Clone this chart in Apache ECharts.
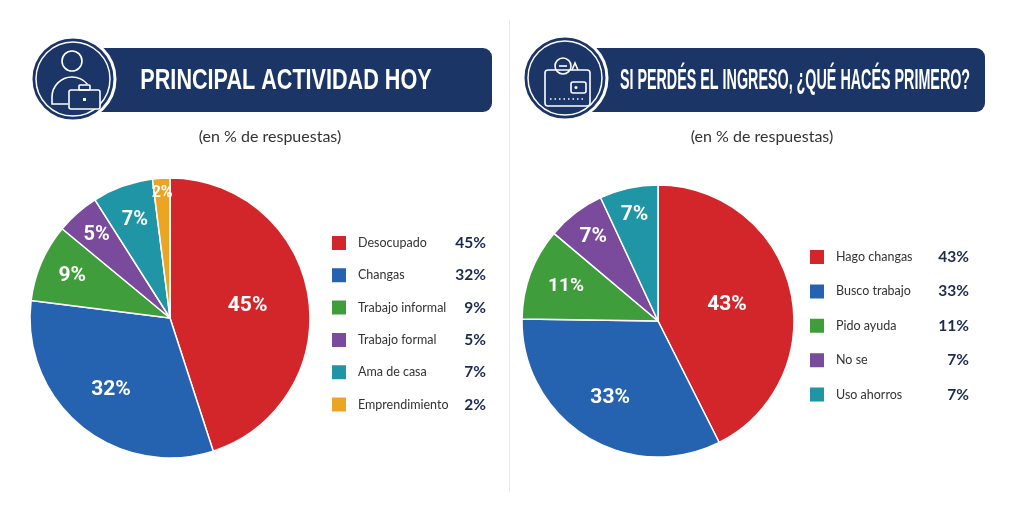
<!DOCTYPE html>
<html>
<head>
<meta charset="utf-8">
<script src="https://cdn.jsdelivr.net/npm/echarts@6/dist/echarts.min.js"></script>
<style>
html,body{margin:0;padding:0;background:#fff;}
#chart{width:1024px;height:507px;}
</style>
</head>
<body>
<div id="chart"></div>
<script>
// ---- Data ----
const titleA = 'PRINCIPAL ACTIVIDAD HOY';
const titleB = 'SI PERDÉS EL INGRESO, ¿QUÉ HACÉS PRIMERO?';
const subtitle = '(en % de respuestas)';
const categoriesA = ['Desocupado', 'Changas', 'Trabajo informal', 'Trabajo formal', 'Ama de casa', 'Emprendimiento'];
const valuesA = [45, 32, 9, 5, 7, 2];
const categoriesB = ['Hago changas', 'Busco trabajo', 'Pido ayuda', 'No se', 'Uso ahorros'];
const valuesB = [43, 33, 11, 7, 7];

// ---- Styles / layout ----
const colorsA = ['#d3262a', '#2562b0', '#3f9e3b', '#7a4b9d', '#1f95a6', '#eba524'];
const colorsB = ['#d3262a', '#2562b0', '#3f9e3b', '#7a4b9d', '#1f95a6'];
const labelRadiusA = [0.54, 0.64, 0.74, 0.77, 0.72, 0.87];
const labelRadiusB = [0.50, 0.64, 0.70, 0.76, 0.78];
const labelSizeA = [21, 21, 21, 20, 20, 16];
const labelSizeB = [21, 21, 19, 21, 21];
const NAVY = '#1b3567';
const pieA = {center: [170, 318], r: 140};
const pieB = {center: [658, 321], r: 136};

const chart = echarts.init(document.getElementById('chart'));

function mainPie(cats, vals, colors, geo) {
  return {
    type: 'pie', center: geo.center, radius: [0, geo.r], startAngle: 90, clockwise: true,
    avoidLabelOverlap: false, silent: true,
    label: {show: false}, labelLine: {show: false},
    itemStyle: {borderColor: '#ffffff', borderWidth: 1.5},
    data: cats.map((n, i) => ({name: n, value: vals[i], itemStyle: {color: colors[i]}}))
  };
}
function labelPies(cats, vals, fracs, sizes, geo) {
  return cats.map((n0, k) => ({
    type: 'pie', center: geo.center, radius: [0, 2 * fracs[k] * geo.r], startAngle: 90, clockwise: true,
    avoidLabelOverlap: false, silent: true, legendHoverLink: false,
    labelLine: {show: false},
    itemStyle: {color: 'rgba(0,0,0,0)', borderWidth: 0},
    data: cats.map((n, i) => ({
      name: n, value: vals[i],
      label: {show: i === k, position: 'inside', formatter: '{c}%', color: '#ffffff',
        fontFamily: 'Roboto', fontWeight: 'bold', fontSize: sizes[i]}
    }))
  }));
}
function legendFor(cats, vals, left, top, gap, nameW) {
  const map = {};
  cats.forEach((c, i) => map[c] = vals[i]);
  return {
    orient: 'vertical', left: left, top: top, padding: 0, itemWidth: 16, itemHeight: 16, itemGap: gap,
    icon: 'rect', selectedMode: false, data: cats,
    formatter: name => '{n|' + name + '}{v|' + map[name] + '%}',
    textStyle: {
      rich: {
        n: {width: nameW, padding: [0, 0, 0, 6], fontFamily: 'Lato', fontSize: 12.5, color: '#333333', lineHeight: 16},
        v: {width: 32, align: 'right', fontFamily: 'Lato', fontWeight: 'bold', fontSize: 15.5, color: '#1d2a4f', lineHeight: 16}
      }
    }
  };
}

function header(cx, cy, barX0, barX1, title, titleX, sx, icon) {
  const els = [
    {type: 'rect', shape: {x: barX0, y: 48, width: barX1 - barX0, height: 64, r: [0, 9, 9, 0]}, style: {fill: NAVY}},
    {type: 'circle', shape: {cx: cx, cy: cy, r: 42}, style: {fill: NAVY, stroke: '#ffffff', lineWidth: 3}},
    {type: 'circle', shape: {cx: cx, cy: cy, r: 37}, style: {fill: 'none', stroke: '#ffffff', lineWidth: 1.5}},
    {type: 'text', x: titleX, y: 81, scaleX: sx,
      style: {text: title, fill: '#ffffff', font: 'bold 29px "Liberation Sans"', textAlign: 'center', textVerticalAlign: 'middle'}}
  ];
  return els.concat(icon);
}
const iconStroke = {fill: 'none', stroke: '#ffffff', lineWidth: 1.6};
const personIcon = [
  {type: 'circle', shape: {cx: 72, cy: 61, r: 10}, style: iconStroke},
  {type: 'arc', shape: {cx: 72, cy: 97, r: 20, startAngle: Math.PI, endAngle: Math.PI * 1.78, clockwise: true}, style: iconStroke},
  {type: 'polyline', shape: {points: [[52, 97], [52, 104], [68, 104]]}, style: iconStroke},
  {type: 'rect', shape: {x: 69, y: 90, width: 31, height: 19, r: 2}, style: {fill: NAVY, stroke: '#ffffff', lineWidth: 1.6}},
  {type: 'rect', shape: {x: 79, y: 85, width: 11, height: 5, r: 1}, style: iconStroke},
  {type: 'rect', shape: {x: 83, y: 98, width: 3, height: 3}, style: {fill: '#ffffff'}}
];
const walletIcon = [
  {type: 'circle', shape: {cx: 563, cy: 66, r: 8}, style: iconStroke},
  {type: 'line', shape: {x1: 559, y1: 66, x2: 567, y2: 66}, style: {stroke: '#ffffff', lineWidth: 1.6}},
  {type: 'polyline', shape: {points: [[572, 70], [575, 63], [578, 70]]}, style: iconStroke},
  {type: 'rect', shape: {x: 545, y: 70, width: 45, height: 36, r: 3}, style: {fill: 'none', stroke: '#ffffff', lineWidth: 1.6}},
  {type: 'rect', shape: {x: 571, y: 82, width: 15, height: 11, r: 2}, style: {fill: NAVY, stroke: '#ffffff', lineWidth: 1.6}},
  {type: 'circle', shape: {cx: 576, cy: 87.5, r: 1.5}, style: {fill: '#ffffff'}},
  {type: 'line', shape: {x1: 550, y1: 99, x2: 585, y2: 99}, style: {stroke: '#ffffff', lineWidth: 1.4, lineDash: [1.5, 3]}}
];

const graphics = []
  .concat(header(73, 79, 100, 492, titleA, 286, 0.745, personIcon))
  .concat(header(565, 78, 590, 985, titleB, 795, 0.494, walletIcon))
  .concat([
    {type: 'text', x: 270, y: 137, style: {text: subtitle, fill: '#333333', font: '16px Lato', textAlign: 'center', textVerticalAlign: 'middle'}},
    {type: 'text', x: 762, y: 137, style: {text: subtitle, fill: '#333333', font: '16px Lato', textAlign: 'center', textVerticalAlign: 'middle'}},
    {type: 'line', shape: {x1: 509.5, y1: 20, x2: 509.5, y2: 492}, style: {stroke: '#e9e9e9', lineWidth: 1}}
  ]);

chart.setOption({
  backgroundColor: '#ffffff',
  animation: false,
  legend: [
    legendFor(categoriesA, valuesA, 330, 234, 14.3, 96),
    legendFor(categoriesB, valuesB, 808, 248, 16.4, 101)
  ],
  series: [mainPie(categoriesA, valuesA, colorsA, pieA)]
    .concat(labelPies(categoriesA, valuesA, labelRadiusA, labelSizeA, pieA))
    .concat([mainPie(categoriesB, valuesB, colorsB, pieB)])
    .concat(labelPies(categoriesB, valuesB, labelRadiusB, labelSizeB, pieB)),
  graphic: graphics
});
</script>
</body>
</html>
